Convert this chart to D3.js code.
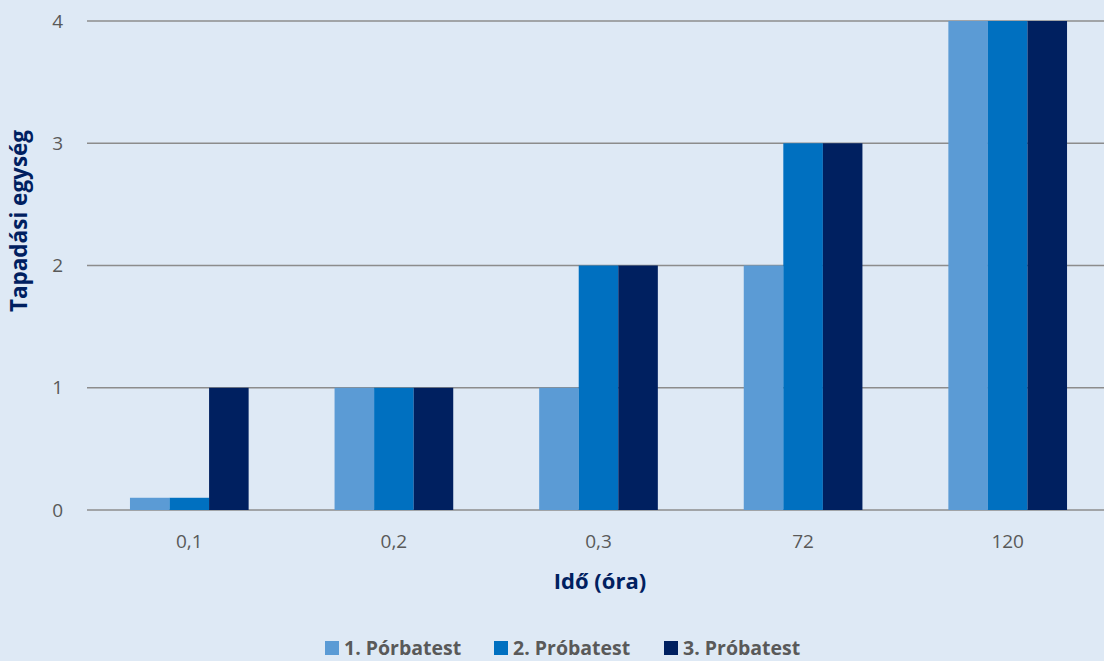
<!DOCTYPE html>
<html>
<head>
<meta charset="utf-8">
<script src="https://cdn.jsdelivr.net/npm/d3@7"></script>
<style>
  html, body { margin: 0; padding: 0; background: #dee9f5; }
  svg { display: block; }
</style>
</head>
<body>
<svg id="chart" width="1104" height="661"></svg>
<script>
// Adhesion test results by time
const categories = ["0,1", "0,2", "0,3", "72", "120"];
const seriesNames = ["1. Pórbatest", "2. Próbatest", "3. Próbatest"];
const series1 = [0.1, 1, 1, 2, 4];
const series2 = [0.1, 1, 2, 3, 4];
const series3 = [1, 1, 2, 3, 4];
const yTicks = [0, 1, 2, 3, 4];
const colors = ["#5b9bd5", "#0070c0", "#002060"];

const seriesValues = [series1, series2, series3];

const svg = d3.select("#chart");
const W = 1104, H = 661;
const plot = { left: 87, right: 1110, top: 21, bottom: 510 };
const fontFamily = "'Open Sans', sans-serif";

svg.append("rect").attr("width", W).attr("height", H).attr("fill", "#dee9f5");

const x = d3.scaleBand()
  .domain(categories)
  .range([plot.left, plot.right])
  .paddingInner(0.42)
  .paddingOuter(0.21);

const xInner = d3.scaleBand()
  .domain(seriesNames)
  .range([0, x.bandwidth()]);

const y = d3.scaleLinear().domain([0, 4]).range([plot.bottom, plot.top]);

// Horizontal gridlines
svg.append("g")
  .selectAll("line")
  .data(yTicks)
  .join("line")
  .attr("x1", plot.left)
  .attr("x2", W)
  .attr("y1", d => y(d))
  .attr("y2", d => y(d))
  .attr("stroke", "#8c8c8c")
  .attr("stroke-width", 1.5);

// Y tick labels
svg.append("g")
  .selectAll("text")
  .data(yTicks)
  .join("text")
  .attr("x", 63)
  .attr("y", d => y(d))
  .attr("dy", "0.35em")
  .attr("text-anchor", "end")
  .attr("font-family", fontFamily)
  .attr("font-size", 19)
  .attr("fill", "#595959")
  .text(d => d);

// Bars
const groups = svg.append("g")
  .selectAll("g")
  .data(categories)
  .join("g")
  .attr("transform", d => `translate(${x(d)},0)`);

groups.selectAll("rect")
  .data((c, i) => seriesNames.map((s, k) => ({ s, k, v: seriesValues[k][i] })))
  .join("rect")
  .attr("x", d => xInner(d.s))
  .attr("width", xInner.bandwidth())
  .attr("y", d => y(d.v))
  .attr("height", d => y(0) - y(d.v))
  .attr("fill", d => colors[d.k]);

// X tick labels
svg.append("g")
  .selectAll("text")
  .data(categories)
  .join("text")
  .attr("x", d => x(d) + x.bandwidth() / 2)
  .attr("y", 541)
  .attr("dy", "0.35em")
  .attr("text-anchor", "middle")
  .attr("font-family", fontFamily)
  .attr("font-size", 19)
  .attr("fill", "#595959")
  .text(d => d);

// Axis titles
svg.append("text")
  .attr("x", 600)
  .attr("y", 581)
  .attr("dy", "0.35em")
  .attr("text-anchor", "middle")
  .attr("font-family", fontFamily)
  .attr("font-weight", "bold")
  .attr("font-size", 22)
  .attr("fill", "#002060")
  .text("Idő (óra)");

svg.append("text")
  .attr("transform", "translate(19,221) rotate(-90)")
  .attr("dy", "0.35em")
  .attr("text-anchor", "middle")
  .attr("font-family", fontFamily)
  .attr("font-weight", "bold")
  .attr("font-size", 22.5)
  .attr("fill", "#002060")
  .text("Tapadási egység");

// Legend
const legendX = [325, 494, 664];
const legend = svg.append("g")
  .selectAll("g")
  .data(seriesNames)
  .join("g")
  .attr("transform", (d, i) => `translate(${legendX[i]},641)`);

legend.append("rect")
  .attr("width", 14)
  .attr("height", 14)
  .attr("fill", (d, i) => colors[i]);

legend.append("text")
  .attr("x", 19)
  .attr("y", 7)
  .attr("dy", "0.36em")
  .attr("font-family", fontFamily)
  .attr("font-weight", "bold")
  .attr("font-size", 19.5)
  .attr("fill", "#595959")
  .text(d => d);
</script>
</body>
</html>
